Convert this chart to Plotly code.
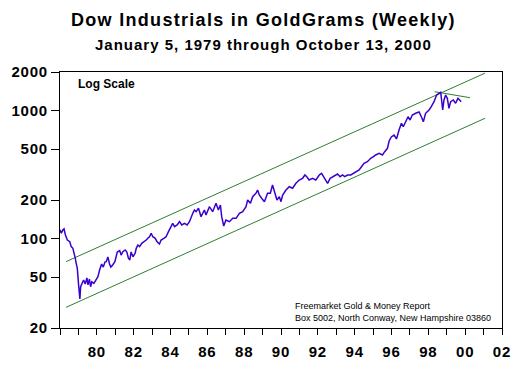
import plotly.graph_objects as go

# Weekly Dow / gold ratio (in grams) (decimal year, value)
years = [1979.00, 1979.07, 1979.16, 1979.22, 1979.29, 1979.40, 1979.53, 1979.61, 1979.70, 1979.76,
         1979.83, 1979.88, 1979.94, 1980.01, 1980.08, 1980.12, 1980.19, 1980.28, 1980.37, 1980.46,
         1980.52, 1980.60, 1980.66, 1980.73, 1980.84, 1980.97, 1981.06, 1981.15, 1981.26, 1981.35,
         1981.44, 1981.51, 1981.60, 1981.69, 1981.76, 1981.86, 1981.98, 1982.11, 1982.24, 1982.32,
         1982.41, 1982.54, 1982.63, 1982.71, 1982.79, 1982.86, 1982.96, 1983.08, 1983.14, 1983.23,
         1983.32, 1983.44, 1983.59, 1983.68, 1983.77, 1983.86, 1983.95, 1984.04, 1984.17, 1984.27,
         1984.40, 1984.49, 1984.64, 1984.76, 1984.89, 1985.03, 1985.12, 1985.22, 1985.36, 1985.49,
         1985.61, 1985.76, 1985.90, 1986.03, 1986.12, 1986.21, 1986.30, 1986.39, 1986.52, 1986.66,
         1986.84, 1986.93, 1987.11, 1987.29, 1987.47, 1987.60, 1987.71, 1987.78, 1987.89, 1988.01,
         1988.20, 1988.38, 1988.56, 1988.74, 1988.92, 1989.10, 1989.19, 1989.34, 1989.46, 1989.64,
         1989.73, 1989.82, 1989.95, 1990.10, 1990.27, 1990.42, 1990.54, 1990.64, 1990.78, 1990.91,
         1991.00, 1991.09, 1991.27, 1991.45, 1991.63, 1991.81, 1991.99, 1992.17, 1992.30, 1992.40,
         1992.53, 1992.71, 1992.89, 1993.08, 1993.20, 1993.31, 1993.43, 1993.53, 1993.67, 1993.85,
         1994.07, 1994.21, 1994.34, 1994.46, 1994.61, 1994.79, 1994.97, 1995.11, 1995.24, 1995.37,
         1995.51, 1995.69, 1995.87, 1996.02, 1996.14, 1996.33, 1996.51, 1996.63, 1996.78, 1996.87,
         1996.99, 1997.14, 1997.27, 1997.41, 1997.54, 1997.64, 1997.77, 1997.90, 1998.01, 1998.13,
         1998.31, 1998.50, 1998.62, 1998.73, 1998.85, 1999.04, 1999.16, 1999.31, 1999.45, 1999.58,
         1999.67, 1999.72, 1999.78, 1999.85, 1999.94, 2000.03, 2000.12, 2000.21, 2000.36, 2000.48,
         2000.61, 2000.70, 2000.78]
goldgrams = [117, 110, 117, 119, 107, 97.4, 94.5, 86.4, 83.9, 74.3,
             70.1, 64.0, 58.5, 43.4, 33.7, 42.0, 44.7, 47.4, 44.1, 49.2,
             43.4, 48.3, 42.0, 46.0, 44.7, 48.3, 50.3, 56.8, 63.2, 59.9,
             65.5, 65.9, 71.7, 63.2, 59.9, 62.1, 65.9, 78.5, 80.6, 74.3,
             78.9, 81.4, 78.5, 70.5, 68.0, 78.5, 72.1, 76.7, 83.9, 89.0,
             86.4, 91.8, 94.5, 97.4, 100.4, 103.3, 110, 103.3, 100.4, 94.5,
             90.6, 97.4, 100.4, 103.3, 113.1, 123.7, 131.5, 123.7, 127.6, 135.4,
             127.6, 131.5, 127.6, 135.4, 148.1, 157.4, 167.1, 162.1, 172.3, 148.1,
             167.1, 152.7, 177.3, 162.1, 188.5, 167.1, 182.8, 148.1, 125.3, 139.6,
             135.4, 143.9, 143.9, 157.4, 162.1, 177.3, 200, 188.5, 212.3, 225.6,
             239.4, 218.8, 206.2, 194.0, 225.6, 225.6, 261.9, 232.2, 200, 212.3,
             194.0, 218.8, 239.4, 254.0, 246.9, 270.1, 286.6, 295.5, 313.6, 304.1,
             286.6, 295.5, 286.6, 313.6, 323.3, 304.1, 286.6, 270.1, 295.5, 304.1,
             319.3, 304.1, 313.6, 304.1, 313.6, 313.6, 323.3, 332.7, 343.0, 364.0,
             387.0, 398.3, 423.6, 435.9, 449.5, 463.5, 449.5, 476.9, 506.9, 578.1,
             621.1, 644.0, 599.4, 704.6, 794.8, 747.5, 817.9, 894.9, 843.4, 922.6,
             951.4, 974.0, 894.9, 817.9, 951.4, 1009.5, 1071, 1172, 1322, 1363,
             1388, 1209, 1009.5, 1209, 1322, 1246, 1041, 1172, 1209, 1139,
             1246, 1209, 1172]

# Channel lines (start / end)
channel_years = [1979.33, 2002.08]
upper_channel = [66, 1960]
lower_channel = [29, 870]
top_line_years = [1999.34, 2001.26]
top_line_values = [1403, 1260]

y_tick_values = [20, 50, 100, 200, 500, 1000, 2000]
x_tick_years = list(range(1979, 2004))
x_label_years = [1981, 1983, 1985, 1987, 1989, 1991, 1993, 1995, 1997, 1999, 2001, 2003]
x_labels = ["80", "82", "84", "86", "88", "90", "92", "94", "96", "98", "00", "02"]

label_map = dict(zip(x_label_years, x_labels))


def spaced(t, ls):
    return '<span style="letter-spacing:%spx">%s</span>' % (ls, t)


x_tick_text = [("<b>" + spaced(label_map[y], 0.8) + "</b>") if y in label_map else ""
               for y in x_tick_years]
y_tick_text = ["<b>" + spaced(str(v), 0.8) + "</b>" for v in y_tick_values]

GREEN = "#2f7d32"
PURPLE = "#3a00cc"
FONT = "Liberation Sans, Arial, sans-serif"

W, H = 526, 380
L, R, T, B = 60, 24, 72, 52
pw, ph = W - L - R, H - T - B


def px_x(x):
    return (x - L) / pw


def px_y(y):
    return (H - B - y) / ph


fig = go.Figure()
fig.add_trace(go.Scatter(x=channel_years, y=upper_channel, mode="lines",
                         line=dict(color=GREEN, width=1), hoverinfo="skip"))
fig.add_trace(go.Scatter(x=channel_years, y=lower_channel, mode="lines",
                         line=dict(color=GREEN, width=1), hoverinfo="skip"))
fig.add_trace(go.Scatter(x=top_line_years, y=top_line_values, mode="lines",
                         line=dict(color=GREEN, width=1), hoverinfo="skip"))
fig.add_trace(go.Scatter(x=years, y=goldgrams, mode="lines",
                         line=dict(color=PURPLE, width=1.5)))

fig.update_layout(
    width=W, height=H,
    margin=dict(l=L, r=R, t=T, b=B),
    paper_bgcolor="white", plot_bgcolor="white",
    showlegend=False,
    font=dict(family=FONT, color="black"),
    annotations=[
        dict(text="<b>" + spaced("Dow Industrials in GoldGrams (Weekly)", 1.3) + "</b>",
             x=0.5 * (W) / pw - L / pw, y=px_y(20),
             xref="paper", yref="paper", showarrow=False, font=dict(size=18),
             xanchor="center", yanchor="middle"),
        dict(text="<b>" + spaced("January 5, 1979 through October 13, 2000", 1.0) + "</b>",
             x=0.5 * (W) / pw - L / pw, y=px_y(44),
             xref="paper", yref="paper", showarrow=False, font=dict(size=15),
             xanchor="center", yanchor="middle"),
        dict(text="<b>Log Scale</b>", x=px_x(76), y=px_y(84), xref="paper", yref="paper",
             showarrow=False, font=dict(size=12), xanchor="left", yanchor="middle"),
        dict(text="Freemarket Gold &amp; Money Report", x=px_x(293), y=px_y(305.5),
             xref="paper", yref="paper", showarrow=False,
             font=dict(size=9), xanchor="left", yanchor="middle"),
        dict(text="Box 5002, North Conway, New Hampshire 03860", x=px_x(293), y=px_y(318),
             xref="paper", yref="paper", showarrow=False,
             font=dict(size=9), xanchor="left", yanchor="middle"),
    ],
)

fig.update_xaxes(range=[1979, 2003], tickvals=x_tick_years, ticktext=x_tick_text,
                 ticks="outside", ticklen=6, tickcolor="black", tickwidth=1,
                 showline=True, linecolor="black", linewidth=1, mirror=True,
                 showgrid=False, zeroline=False,
                 tickfont=dict(size=15, family=FONT), ticklabelstandoff=4)
fig.update_yaxes(type="log", range=[1.30103, 3.30103], tickvals=y_tick_values,
                 ticktext=y_tick_text,
                 ticks="outside", ticklen=8, tickcolor="black", tickwidth=1,
                 showline=True, linecolor="black", linewidth=1, mirror=True,
                 showgrid=False, zeroline=False,
                 tickfont=dict(size=15, family=FONT))

fig.write_html("out.html", config={"displayModeBar": False},
               post_script="document.body.style.margin='0px';")
